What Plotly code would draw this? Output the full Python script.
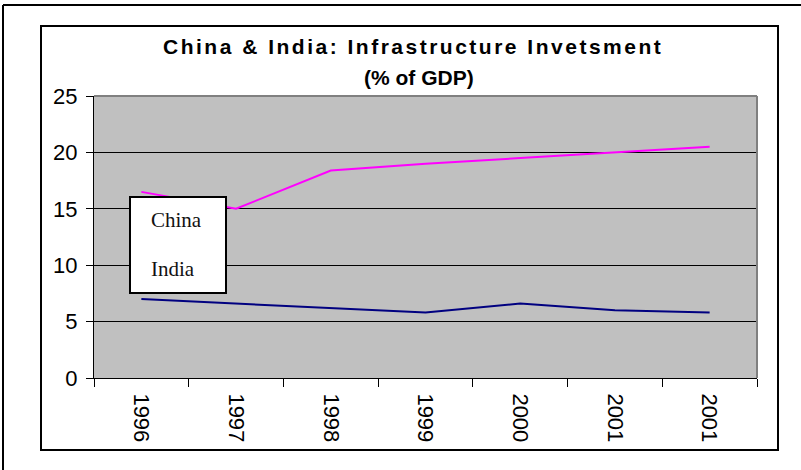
import plotly.graph_objects as go

# Infrastructure investment as a share of GDP
years = ["1996", "1997", "1998", "1999", "2000", "2001", "2001"]
china = [16.5, 15.0, 18.4, 19.0, 19.5, 20.0, 20.5]
india = [7.0, 6.6, 6.2, 5.8, 6.6, 6.0, 5.8]
series_names = ["China", "India"]
title_lines = ["China & India: Infrastructure Invetsment", "(% of GDP)"]
y_ticks = [0, 5, 10, 15, 20, 25]

positions = list(range(len(years)))

# Plot-area pixel geometry (used to convert frame/legend boxes to paper coords)
PLOT_L, PLOT_R, PLOT_T, PLOT_B = 94, 757, 96, 378
W, H = 801, 470


def px(x):
    return (x - PLOT_L) / (PLOT_R - PLOT_L)


def py(y):
    return (PLOT_B - y) / (PLOT_B - PLOT_T)


fig = go.Figure()
fig.add_trace(go.Scatter(x=positions, y=china, mode="lines", name=series_names[0],
                         line=dict(color="#FF00FF", width=2)))
fig.add_trace(go.Scatter(x=positions, y=india, mode="lines", name=series_names[1],
                         line=dict(color="#000080", width=2)))

axis_font = dict(family="Arial, Liberation Sans, sans-serif", size=22, color="#000000")

fig.update_layout(
    width=W, height=H,
    margin=dict(l=PLOT_L, r=W - PLOT_R, t=PLOT_T, b=H - PLOT_B, pad=0),
    paper_bgcolor="#FFFFFF",
    plot_bgcolor="#C0C0C0",
    showlegend=False,
    xaxis=dict(
        range=[-0.5, len(years) - 0.5],
        tickmode="array", tickvals=positions, ticktext=years,
        tickangle=90,
        # invisible major ticks only push the labels down below the boundary ticks
        ticks="outside", ticklen=10, tickcolor="rgba(0,0,0,0)",
        tickfont=axis_font,
        showgrid=False, zeroline=False,
        showline=True, linecolor="#000000", linewidth=1,
        minor=dict(tickmode="linear", tick0=-0.5, dtick=1, ticks="outside",
                   ticklen=8, tickcolor="#000000", tickwidth=1, showgrid=False),
        fixedrange=True,
    ),
    yaxis=dict(
        range=[0, 25],
        tickmode="array", tickvals=y_ticks,
        ticks="outside", ticklen=7, tickcolor="#000000", tickwidth=1,
        ticklabelstandoff=4,
        tickfont=axis_font,
        showgrid=True, gridcolor="#000000", gridwidth=1,
        zeroline=False,
        showline=True, linecolor="#000000", linewidth=1,
        fixedrange=True,
    ),
)

shapes = [
    # grey border on the top and right of the plot area
    dict(type="line", xref="paper", yref="paper", x0=0, x1=1, y0=1, y1=1,
         line=dict(color="#808080", width=2)),
    dict(type="line", xref="paper", yref="paper", x0=1, x1=1, y0=0, y1=1,
         line=dict(color="#808080", width=2)),
    # chart frame
    dict(type="rect", xref="paper", yref="paper",
         x0=px(41), x1=px(778), y0=py(450), y1=py(26),
         line=dict(color="#000000", width=2), fillcolor="rgba(0,0,0,0)"),
    # outer page frame
    dict(type="line", xref="paper", yref="paper",
         x0=px(3), x1=px(W + 10), y0=py(5), y1=py(5),
         line=dict(color="#000000", width=2)),
    dict(type="line", xref="paper", yref="paper",
         x0=px(3), x1=px(3), y0=py(5), y1=py(H + 10),
         line=dict(color="#000000", width=2)),
    # legend box
    dict(type="rect", xref="paper", yref="paper", layer="above",
         x0=px(130), x1=px(226), y0=py(293), y1=py(197),
         line=dict(color="#000000", width=2), fillcolor="#FFFFFF"),
]
fig.update_layout(shapes=shapes)

title_font = dict(family="Arial, Liberation Sans, sans-serif", size=21,
                  color="#000000", weight="bold")
legend_font = dict(family="Times New Roman, Liberation Serif, serif", size=21,
                   color="#111111")

annotations = [
    dict(text='<span style="letter-spacing:2.5px">' + title_lines[0] + "</span>",
         x=px(413), y=py(46), xref="paper", yref="paper",
         xanchor="center", yanchor="middle", showarrow=False, font=title_font),
    dict(text=title_lines[1], x=px(419), y=py(77), xref="paper", yref="paper",
         xanchor="center", yanchor="middle", showarrow=False, font=title_font),
    dict(text=series_names[0], x=px(149), y=py(220), xref="paper", yref="paper",
         xanchor="left", yanchor="middle", showarrow=False, font=legend_font),
    dict(text=series_names[1], x=px(149), y=py(269), xref="paper", yref="paper",
         xanchor="left", yanchor="middle", showarrow=False, font=legend_font),
]
fig.update_layout(annotations=annotations)

fig.write_html("out.html")
